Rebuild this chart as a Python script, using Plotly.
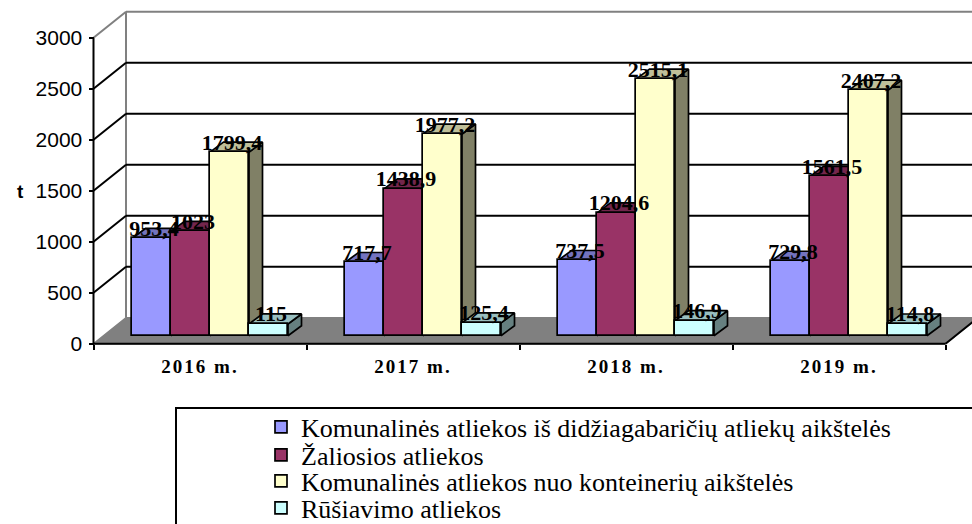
import plotly.graph_objects as go

categories = ["2016 m.", "2017 m.", "2018 m.", "2019 m."]
series_names = [
    "Komunalinės atliekos iš didžiagabaričių atliekų aikštelės",
    "Žaliosios atliekos",
    "Komunalinės atliekos nuo konteinerių aikštelės",
    "Rūšiavimo atliekos",
]
didziagabarites = [953.4, 717.7, 737.5, 729.8]
zaliosios = [1023, 1438.9, 1204.6, 1561.5]
konteineriu = [1799.4, 1977.2, 2515.1, 2407.2]
rusiavimo = [115, 125.4, 146.9, 114.8]
all_values = [didziagabarites, zaliosios, konteineriu, rusiavimo]
colors = [(0x99, 0x99, 0xFF), (0x99, 0x33, 0x66), (0xFF, 0xFF, 0xCC), (0xCC, 0xFF, 0xFF)]
y_ticks = [0, 500, 1000, 1500, 2000, 2500, 3000]

W, H = 972, 524
X0, Y0 = 93.5, 343.7      # pixel of axis origin
PX_X, PX_Y = 213.0, 0.102 # pixels per category, pixels per unit


def xu(px):
    return px / PX_X


def yu(px):
    return px / PX_Y


wall_dx, wall_dy = xu(32.5), yu(26)
bar_dx, bar_dy = xu(13.5), yu(10)
base_y = yu(8)
bar_w = xu(39)
group_centre = xu(116.5)
shade = lambda c, f: "rgb(%d,%d,%d)" % tuple(round(v * f) for v in c)
css = lambda c: shade(c, 1)
LW = 1.7
legend_keys = ["legend", "legend2", "legend3", "legend4"]
legend_rows = [427, 455, 481, 508]

fig = go.Figure()
for s, (name, vals, col) in enumerate(zip(series_names, all_values, colors)):
    offs = group_centre + (s - 1.5) * bar_w
    lefts = [i + offs - bar_w / 2 for i in range(len(vals))]
    side_x, side_y, top_x, top_y = [], [], [], []
    for l, v in zip(lefts, vals):
        r = l + bar_w
        t = base_y + v
        side_x += [r, r + bar_dx, r + bar_dx, r, r, None]
        side_y += [base_y, base_y + bar_dy, t + bar_dy, t, base_y, None]
        top_x += [l, l + bar_dx, r + bar_dx, r, l, None]
        top_y += [t, t + bar_dy, t + bar_dy, t, t, None]
    for px, py, f in ((side_x, side_y, 0.5), (top_x, top_y, 0.75)):
        fig.add_trace(go.Scatter(x=px, y=py, mode="lines", fill="toself",
                                 fillcolor=shade(col, f), line=dict(color="black", width=LW),
                                 showlegend=False, hoverinfo="skip", zorder=2 * s))
    fig.add_trace(go.Bar(x=[l + bar_w / 2 for l in lefts], y=vals, base=base_y, width=bar_w,
                         name=name, legend=legend_keys[s],
                         marker=dict(color=css(col), line=dict(color="black", width=LW)),
                         zorder=2 * s + 1))

for s, (vals) in enumerate(all_values):
    offs = group_centre + (s - 1.5) * bar_w + xu(2.5)
    fig.add_trace(go.Scatter(
        x=[i + offs for i in range(len(vals))],
        y=[base_y + v + bar_dy - yu(2) for v in vals],
        mode="text",
        text=[f"{v:g}".replace(".", ",") for v in vals],
        textposition="middle center",
        textfont=dict(family="Liberation Serif", size=22, color="black", weight="bold"),
        showlegend=False, hoverinfo="skip", cliponaxis=False, zorder=50))

n = len(categories)
GRAY = "#808080"
shapes = [
    dict(type="rect", xref="paper", yref="paper", x0=176 / W, x1=1.02, y0=-0.05, y1=1 - 408 / H,
         line=dict(color="black", width=2), fillcolor="white", layer="below"),
    dict(type="path", layer="below", fillcolor=GRAY, line=dict(color=GRAY, width=1.5),
         path=f"M0,0 L{n},0 L{n + wall_dx},{wall_dy} L{wall_dx},{wall_dy} Z"),
    dict(type="line", layer="below", x0=wall_dx, x1=wall_dx, y0=wall_dy, y1=3000 + wall_dy,
         line=dict(color=GRAY, width=2)),
    dict(type="line", layer="below", x0=0, x1=0, y0=0, y1=3000, line=dict(color="black", width=2)),
    dict(type="line", layer="below", x0=0, x1=n, y0=0, y1=0, line=dict(color="black", width=2)),
    dict(type="line", layer="below", x0=n, x1=n + wall_dx, y0=0, y1=wall_dy, line=dict(color="black", width=2)),
]
for t in y_ticks[1:]:
    c = GRAY if t == 3000 else "black"
    shapes.append(dict(type="line", layer="below", x0=0, x1=wall_dx, y0=t, y1=t + wall_dy,
                       line=dict(color=c, width=2)))
    shapes.append(dict(type="line", layer="below", x0=wall_dx, x1=n + wall_dx + 0.1, y0=t + wall_dy,
                       y1=t + wall_dy, line=dict(color=c, width=2)))

PL, PR, PT, PB = 85.0, 972.0, 5.0, 352.0
legends = {}
for key, row in zip(legend_keys, legend_rows):
    legends[key] = dict(x=261 / W, y=1 - row / H,
                        xanchor="left", yanchor="middle", bgcolor="rgba(0,0,0,0)", borderwidth=0,
                        font=dict(family="Liberation Serif", size=26, color="black"))
fig.update_layout(
    width=W, height=H, margin=dict(l=0, r=0, t=0, b=0, pad=0, autoexpand=False),
    paper_bgcolor="white", plot_bgcolor="white", barmode="overlay", bargap=0,
    shapes=shapes, hovermode=False,
    xaxis=dict(domain=[PL / W, PR / W], range=[xu(PL - X0), xu(PR - X0)], anchor="free",
               position=1 - Y0 / H, showgrid=False, zeroline=False, showline=False,
               tickmode="array", tickvals=[i + 0.5 for i in range(n)], ticktext=categories,
               ticks="", ticklabelstandoff=9,
               tickfont=dict(family="Liberation Serif", size=19, color="black", weight="bold"),
               minor=dict(tickmode="array", tickvals=list(range(n + 1)), ticks="outside", ticklen=5,
                          tickwidth=1.5, tickcolor="black", showgrid=False)),
    yaxis=dict(domain=[1 - PB / H, 1 - PT / H], range=[yu(Y0 - PB), yu(Y0 - PT)], anchor="free",
               position=X0 / W, showgrid=False, zeroline=False, showline=False,
               tickmode="array", tickvals=y_ticks, ticks="outside", ticklen=5, tickwidth=1.5,
               tickcolor="black", ticklabelstandoff=2,
               tickfont=dict(family="Liberation Sans", size=21, color="black")),
    annotations=[dict(text="<b>t</b>", xref="paper", yref="paper", x=15 / W, y=1 - 191 / H,
                      showarrow=False, font=dict(family="Liberation Sans", size=19, color="black"))],
    **legends,
)
post = """
document.documentElement.style.margin = '0';
document.body.style.margin = '0';
var st = document.createElement('style');
st.textContent = '.xtick text { letter-spacing: 2px; }';
document.head.appendChild(st);
"""
fig.write_html("out.html", post_script=post, config=dict(displayModeBar=False))
